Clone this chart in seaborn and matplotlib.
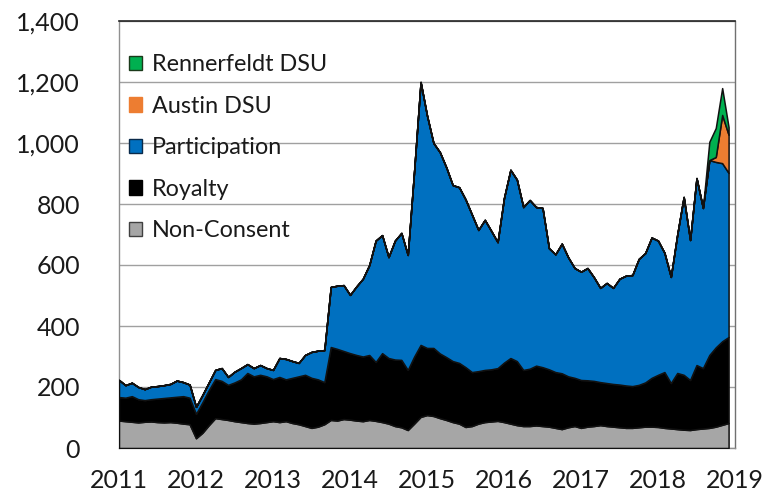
import matplotlib
matplotlib.use("Agg")
import matplotlib.pyplot as plt
from matplotlib.patches import Patch
from matplotlib.ticker import FuncFormatter
import seaborn as sns
import numpy as np

# monthly values, Jan 2011 .. Dec 2018 (one row per year)
non_consent = [
    90, 88, 86, 84, 86, 87, 85, 84, 85, 83, 80, 78,
    32, 50, 75, 98, 95, 92, 88, 85, 82, 80, 82, 85,
    88, 85, 88, 82, 78, 72, 66, 70, 78, 92, 90, 95,
    93, 90, 88, 92, 89, 85, 80, 72, 68, 59, 80, 102,
    108, 105, 98, 92, 85, 80, 69, 72, 80, 85, 87, 89,
    85, 80, 75, 72, 72, 74, 72, 70, 66, 62, 68, 72,
    66, 70, 72, 75, 72, 70, 68, 66, 66, 68, 70, 70,
    69, 66, 64, 62, 60, 59, 62, 64, 66, 70, 76, 82,
]
royalty = [
    77, 77, 84, 76, 71, 73, 77, 80, 81, 85, 90, 87,
    80, 100, 115, 128, 125, 115, 127, 140, 164, 155, 158, 150,
    138, 148, 137, 148, 157, 168, 164, 155, 138, 239, 235, 223,
    218, 215, 212, 213, 193, 226, 215, 218, 221, 197, 220, 236,
    220, 223, 212, 206, 200, 199, 196, 177, 172, 171, 171, 173,
    195, 215, 210, 184, 188, 196, 193, 188, 183, 183, 167, 158,
    157, 152, 148, 141, 141, 140, 140, 139, 137, 139, 145, 160,
    171, 183, 149, 184, 180, 164, 210, 198, 239, 260, 274, 282,
]
participation = [
    56, 41, 44, 40, 36, 41, 41, 42, 44, 53, 46, 43,
    23, 24, 25, 30, 42, 26, 35, 37, 29, 27, 32, 27,
    30, 62, 67, 55, 44, 65, 85, 94, 105, 197, 207, 216,
    191, 225, 255, 295, 398, 387, 331, 390, 416, 377, 610, 862,
    762, 672, 660, 622, 577, 576, 550, 516, 463, 492, 454, 413,
    540, 617, 595, 534, 553, 520, 522, 397, 386, 425, 390, 360,
    355, 368, 340, 309, 328, 315, 347, 360, 364, 413, 424, 460,
    440, 391, 348, 454, 583, 459, 613, 525, 639, 608, 584, 538,
]
austin_dsu = [
    0, 0, 0, 0, 0, 0, 0, 0, 0, 0, 0, 0,
    0, 0, 0, 0, 0, 0, 0, 0, 0, 0, 0, 0,
    0, 0, 0, 0, 0, 0, 0, 0, 0, 0, 0, 0,
    0, 0, 0, 0, 0, 0, 0, 0, 0, 0, 0, 0,
    0, 0, 0, 0, 0, 0, 0, 0, 0, 0, 0, 0,
    0, 0, 0, 0, 0, 0, 0, 0, 0, 0, 0, 0,
    0, 0, 0, 0, 0, 0, 0, 0, 0, 0, 0, 0,
    0, 0, 0, 0, 0, 0, 0, 0, 0, 16, 158, 125,
]
rennerfeldt_dsu = [
    0, 0, 0, 0, 0, 0, 0, 0, 0, 0, 0, 0,
    0, 0, 0, 0, 0, 0, 0, 0, 0, 0, 0, 0,
    0, 0, 0, 0, 0, 0, 0, 0, 0, 0, 0, 0,
    0, 0, 0, 0, 0, 0, 0, 0, 0, 0, 0, 0,
    0, 0, 0, 0, 0, 0, 0, 0, 0, 0, 0, 0,
    0, 0, 0, 0, 0, 0, 0, 0, 0, 0, 0, 0,
    0, 0, 0, 0, 0, 0, 0, 0, 0, 0, 0, 0,
    0, 0, 0, 0, 0, 0, 0, 0, 60, 95, 88, 25,
]
labels = ["Non-Consent", "Royalty", "Participation", "Austin DSU", "Rennerfeldt DSU"]
colors = ["#a6a6a6", "#000000", "#0070c0", "#ed7d31", "#00b050"]
edges = ["#404040", "#000000", "#0a2a4a", "#ed7d31", "#1a3a1a"]
year_ticks = list(range(2011, 2020))

sns.set_theme(style="white")
plt.rcParams['font.family'] = ['Lato', 'DejaVu Sans']

months = 2011 + np.arange(len(non_consent)) / 12

fig = plt.figure(figsize=(7.79, 5.0), dpi=100)
ax = fig.add_axes([119 / 779, 52 / 500, 616 / 779, 427 / 500])

ax.stackplot(months, non_consent, royalty, participation, austin_dsu, rennerfeldt_dsu,
             colors=colors, edgecolor="#111111", linewidth=1.1, zorder=3)

ax.set_xlim(2011, 2019)
ax.set_ylim(0, 1400)
ax.set_xticks(year_ticks)
ax.set_xticklabels([str(y) for y in year_ticks])
ax.set_yticks(range(0, 1401, 200))
ax.yaxis.set_major_formatter(FuncFormatter(lambda v, p: f"{int(v):,}"))

ax.grid(axis="y", color="#a0a0a0", linewidth=1, zorder=0)
ax.set_axisbelow(True)
ax.tick_params(axis="x", direction="out", length=8, width=1, color="#909090",
               labelsize=18, labelcolor="#1a1a1a", pad=7)
ax.tick_params(axis="y", direction="out", length=9, width=1, color="#909090",
               labelsize=18, labelcolor="#1a1a1a", pad=19)
for side in ["left", "bottom"]:
    ax.spines[side].set_color("#909090")
    ax.spines[side].set_linewidth(1)
ax.spines["top"].set_color("#222222")
ax.spines["top"].set_linewidth(1.2)
ax.spines["right"].set_color("#707070")
ax.spines["right"].set_linewidth(1)

handles = [Patch(facecolor=c, edgecolor=e, linewidth=1, label=l)
           for c, e, l in zip(colors, edges, labels)][::-1]
ax.legend(handles=handles, loc="upper left", bbox_to_anchor=(0.016, 0.922),
          frameon=False, fontsize=16.8, handlelength=0.58, handleheight=0.58,
          handletextpad=0.42, labelspacing=0.88, borderpad=0, borderaxespad=0,
          labelcolor="#1a1a1a")

fig.savefig("out.png", dpi=100)
